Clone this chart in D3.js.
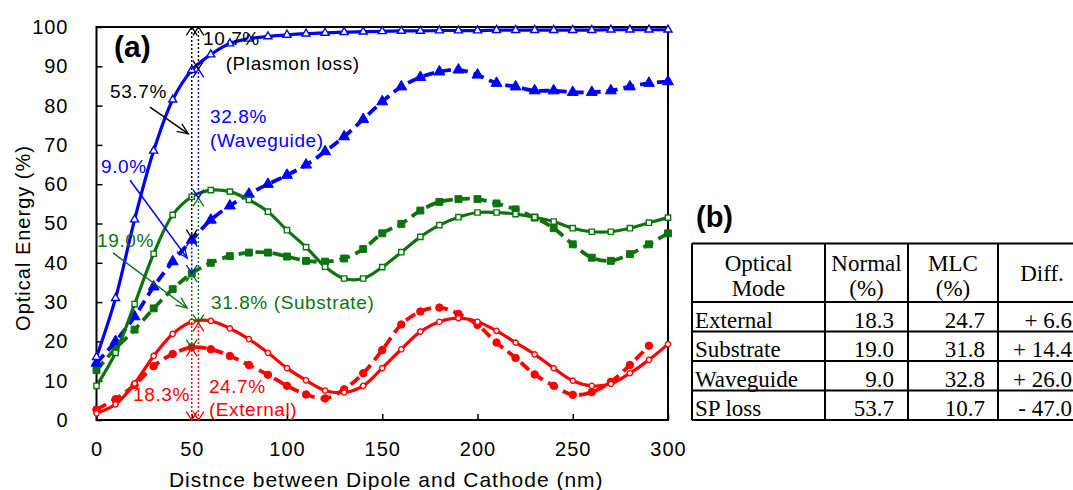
<!DOCTYPE html>
<html>
<head>
<meta charset="utf-8">
<script src="https://cdn.jsdelivr.net/npm/d3@7"></script>
<style>
  body { margin: 0; background: #fff; }
  svg { display: block; font-family: Arial, "Liberation Sans", sans-serif; }
</style>
</head>
<body>
<svg id="chart" width="1073" height="490"></svg>
<script>
// distance between dipole and cathode (nm)
const distance = [0, 10, 20, 30, 40, 50, 60, 70, 80, 90, 100, 110, 120, 130, 140, 150,
  160, 170, 180, 190, 200, 210, 220, 230, 240, 250, 260, 270, 280, 290, 300];

// cumulative optical energy (%), dashed = normal, solid = MLC
const externalNormal = [2.7, 5.3, 8.9, 13.7, 16.8, 18.5, 18, 16.3, 14, 11.5, 8.7, 6.5, 5.5, 7.8, 11.9,
  17.8, 24.3, 27.6, 28.6, 27, 24.2, 19.7, 15.8, 11.6, 8.7, 6.4, 7.1, 9.7, 14, 18.9];
const externalMLC = [1.7, 4, 9.3, 16.3, 21.9, 25, 25.2, 23.3, 20.6, 17.1, 13.2, 10.1, 7.5, 7, 8.7,
  13.2, 18, 22.5, 25, 25.9, 25, 22.7, 19.7, 16.7, 13.2, 10, 8.7, 9.2, 11.9, 15.3, 19.3];
const substrateNormal = [12.7, 18.2, 23, 28.4, 33.3, 37.3, 40, 41.7, 42.6, 42.6, 41.6, 40.5, 40.3, 41.1,
  43.5, 47.5, 49.9, 53.3, 55.5, 56.2, 56.2, 55.1, 53.6, 51.5, 48.8, 44.7, 41.3, 40.5, 42.2, 44.7, 47.5];
const substrateMLC = [8.7, 17.1, 29.5, 42.3, 52.2, 56.8, 58.5, 58.1, 56, 53, 48.3, 44, 39, 36, 36,
  38.9, 42.7, 46.6, 49.6, 51.6, 52.8, 52.8, 52.4, 51.6, 50.5, 48.8, 47.9, 47.9, 48.8, 50.2, 51.5];
const waveguideNormal = [14.5, 20, 26.3, 33.9, 40.3, 45.8, 50.9, 54.5, 57.5, 60, 62.3, 64.9, 68.3, 72.1,
  76.5, 81, 84.8, 87.2, 88.6, 89.1, 87.8, 85.7, 84.8, 83.8, 83.8, 83.4, 83.4, 83.8, 84.8, 85.7, 86.1];
const waveguideMLC = [16, 31, 51, 68.5, 81.5, 89, 93, 95.8, 97, 97.6, 98, 98.3, 98.5, 98.7, 98.8,
  98.9, 99, 99, 99.1, 99.1, 99.1, 99.2, 99.2, 99.2, 99.2, 99.2, 99.2, 99.3, 99.3, 99.3, 99.3];

const xTicks = [0, 50, 100, 150, 200, 250, 300];
const yTicks = [0, 10, 20, 30, 40, 50, 60, 70, 80, 90, 100];

// table (b)
const modes = ["External", "Substrate", "Waveguide", "SP loss"];
const normalPct = [18.3, 19.0, 9.0, 53.7];
const mlcPct = [24.7, 31.8, 32.8, 10.7];
const diffPct = [6.6, 14.4, 26.0, -47.0];

const RED = "#ff0000", GREEN = "#0d740d", BLUE = "#0000ff";

const svg = d3.select("#chart");
const x = d3.scaleLinear().domain([0, 300]).range([96.5, 668]);
const y = d3.scaleLinear().domain([0, 100]).range([420, 27]);

// axes
svg.append("g")
  .attr("transform", "translate(0,420)")
  .call(d3.axisBottom(x).tickValues(xTicks).tickSizeInner(-6).tickSizeOuter(0).tickPadding(22))
  .call(g => g.select(".domain").remove())
  .call(g => g.selectAll("text").attr("font-size", 20).attr("letter-spacing", 1).attr("fill", "#000"))
  .call(g => g.selectAll("line").attr("stroke", "#000").attr("stroke-width", 1.5));

svg.append("g")
  .attr("transform", "translate(96.5,0)")
  .call(d3.axisLeft(y).tickValues(yTicks).tickSizeInner(-6).tickSizeOuter(0).tickPadding(28))
  .call(g => g.select(".domain").remove())
  .call(g => g.selectAll("text").attr("font-size", 20).attr("letter-spacing", 1).attr("fill", "#000"))
  .call(g => g.selectAll("line").attr("stroke", "#000").attr("stroke-width", 1.5));

svg.append("rect")
  .attr("x", x(0)).attr("y", y(100))
  .attr("width", x(300) - x(0)).attr("height", y(0) - y(100))
  .attr("fill", "none").attr("stroke", "#000").attr("stroke-width", 2);

svg.append("text")
  .attr("x", (x(0) + x(300)) / 2 + 4).attr("y", 487)
  .attr("text-anchor", "middle").attr("font-size", 21).attr("letter-spacing", 1)
  .text("Distnce between Dipole and Cathode (nm)");

svg.append("text")
  .attr("transform", "translate(30,238) rotate(-90)")
  .attr("text-anchor", "middle").attr("font-size", 20).attr("letter-spacing", 1)
  .text("Optical Energy (%)");

// curves
const series = [
  { values: externalNormal, color: RED, dashed: true, symbol: d3.symbolCircle, filled: true },
  { values: substrateNormal, color: GREEN, dashed: true, symbol: d3.symbolSquare, filled: true },
  { values: waveguideNormal, color: BLUE, dashed: true, symbol: d3.symbolTriangle, filled: true },
  { values: externalMLC, color: RED, dashed: false, symbol: d3.symbolCircle, filled: false },
  { values: substrateMLC, color: GREEN, dashed: false, symbol: d3.symbolSquare, filled: false },
  { values: waveguideMLC, color: BLUE, dashed: false, symbol: d3.symbolTriangle, filled: false }
];

const line = d3.line()
  .x((d, i) => x(distance[i]))
  .y(d => y(d))
  .curve(d3.curveCatmullRom.alpha(0.5));

const symbolSize = (s) => {
  if (s.symbol === d3.symbolCircle) return s.filled ? 44 : 22;
  if (s.symbol === d3.symbolSquare) return s.filled ? 48 : 28;
  return s.filled ? 52 : 28;
};

series.forEach(s => {
  const g = svg.append("g");
  g.append("path")
    .attr("d", line(s.values))
    .attr("fill", "none")
    .attr("stroke", s.color)
    .attr("stroke-width", s.dashed ? 3.8 : 3.2)
    .attr("stroke-dasharray", s.dashed ? "11,6" : null);

  g.selectAll("path.mark")
    .data(s.values)
    .enter()
    .append("path")
    .attr("class", "mark")
    .attr("transform", (d, i) => `translate(${x(distance[i])},${y(d)})`)
    .attr("d", d3.symbol().type(s.symbol).size(symbolSize(s)))
    .attr("fill", s.filled ? s.color : "#fff")
    .attr("stroke", s.color)
    .attr("stroke-width", s.filled ? 1 : 1.4);
});

// annotations
const ann = svg.append("g");

function arrowHead(x1, y1, x2, y2, color, len, ang) {
  const a = Math.atan2(y2 - y1, x2 - x1);
  const pts = [
    [x2 - len * Math.cos(a - ang), y2 - len * Math.sin(a - ang)],
    [x2, y2],
    [x2 - len * Math.cos(a + ang), y2 - len * Math.sin(a + ang)]
  ];
  ann.append("path").attr("d", d3.line()(pts))
    .attr("fill", "none").attr("stroke", color).attr("stroke-width", 1.3);
}

function pointer(from, to, color) {
  const [x1, y1, x2, y2] = [x(from[0]), y(from[1]), x(to[0]), y(to[1])];
  ann.append("line").attr("x1", x1).attr("y1", y1).attr("x2", x2).attr("y2", y2)
    .attr("stroke", color).attr("stroke-width", 1.5);
  arrowHead(x1, y1, x2, y2, color, 12, Math.PI / 8);
}

function span(at, lo, hi, color) {
  const px = x(at), y1 = y(lo), y2 = y(hi);
  ann.append("line").attr("x1", px).attr("x2", px).attr("y1", y1).attr("y2", y2)
    .attr("stroke", color).attr("stroke-width", 1.4).attr("stroke-dasharray", "2,2");
  arrowHead(px, y2, px, y1, color, 10, Math.PI / 5.5);
  arrowHead(px, y1, px, y2, color, 10, Math.PI / 5.5);
}

// normal device, cumulative boundaries at 50 nm
const normalStack = [0, 18.3, 37.3, 46.3, 100];
// MLC device
const mlcStack = [0, 24.7, 56.5, 89.3, 100];
const stackColors = [RED, GREEN, BLUE, "#000"];
stackColors.forEach((c, i) => {
  span(50, normalStack[i], normalStack[i + 1], c);
  span(53.5, mlcStack[i], mlcStack[i + 1], c);
});

pointer([28.1, 79.6], [48.2, 72.8], "#000");
pointer([17.6, 61], [47.6, 41.2], BLUE);
pointer([8.7, 42.5], [47.6, 28.5], GREEN);

const labels = [
  { t: "10.7%", at: [55.9, 95.4], c: "#000" },
  { t: "(Plasmon loss)", at: [67.8, 89], c: "#000" },
  { t: "53.7%", at: [7.1, 81.9], c: "#000" },
  { t: "32.8%", at: [59.6, 75.6], c: BLUE },
  { t: "(Waveguide)", at: [59.6, 69.5], c: BLUE },
  { t: "9.0%", at: [2.4, 62.8], c: BLUE },
  { t: "19.0%", at: [0.3, 44], c: GREEN },
  { t: "31.8% (Substrate)", at: [60.1, 28.2], c: GREEN },
  { t: "18.3%", at: [19.2, 4.8], c: RED },
  { t: "24.7%", at: [59, 6.9], c: RED },
  { t: "(External)", at: [59, 1], c: RED }
];
ann.selectAll("text.lbl").data(labels).enter().append("text")
  .attr("class", "lbl")
  .attr("x", d => x(d.at[0])).attr("y", d => y(d.at[1]))
  .attr("fill", d => d.c).attr("font-size", 19).attr("letter-spacing", 0.6)
  .text(d => d.t);

svg.append("text").attr("x", 114).attr("y", 57)
  .attr("font-size", 30).attr("font-weight", "bold").text("(a)");

// table (b)
svg.append("text").attr("x", 696).attr("y", 227)
  .attr("font-size", 29).attr("font-weight", "bold").text("(b)");

const tbl = svg.append("g").attr("font-family", "'Liberation Serif', 'Times New Roman', serif")
  .attr("font-size", 23);
const colX = [692, 825, 908, 998, 1086];
const rowY = [243.5, 302, 331.5, 361, 390.5, 420];

rowY.forEach(ry => tbl.append("line").attr("x1", colX[0]).attr("x2", colX[4])
  .attr("y1", ry).attr("y2", ry).attr("stroke", "#000").attr("stroke-width", 2));
colX.forEach(cx => tbl.append("line").attr("x1", cx).attr("x2", cx)
  .attr("y1", rowY[0]).attr("y2", rowY[5]).attr("stroke", "#000").attr("stroke-width", 2));

const header = [["Optical", "Mode"], ["Normal", "(%)"], ["MLC", "(%)"], ["Diff."]];
header.forEach((h, i) => {
  const cx = (colX[i] + colX[i + 1]) / 2;
  if (h.length === 2) {
    tbl.append("text").attr("x", cx).attr("y", 271).attr("text-anchor", "middle").text(h[0]);
    tbl.append("text").attr("x", cx).attr("y", 296).attr("text-anchor", "middle").text(h[1]);
  } else {
    tbl.append("text").attr("x", cx).attr("y", 281).attr("text-anchor", "middle").text(h[0]);
  }
});

const fmt = d3.format(".1f");
modes.forEach((m, r) => {
  const by = rowY[r + 2] - 4;
  tbl.append("text").attr("x", colX[0] + 3).attr("y", by).text(m);
  tbl.append("text").attr("x", colX[2] - 14).attr("y", by).attr("text-anchor", "end").text(fmt(normalPct[r]));
  tbl.append("text").attr("x", colX[3] - 13).attr("y", by).attr("text-anchor", "end").text(fmt(mlcPct[r]));
  const d = diffPct[r];
  tbl.append("text").attr("x", colX[4] - 14).attr("y", by).attr("text-anchor", "end")
    .text((d >= 0 ? "+ " : "- ") + fmt(Math.abs(d)));
});
</script>
</body>
</html>
